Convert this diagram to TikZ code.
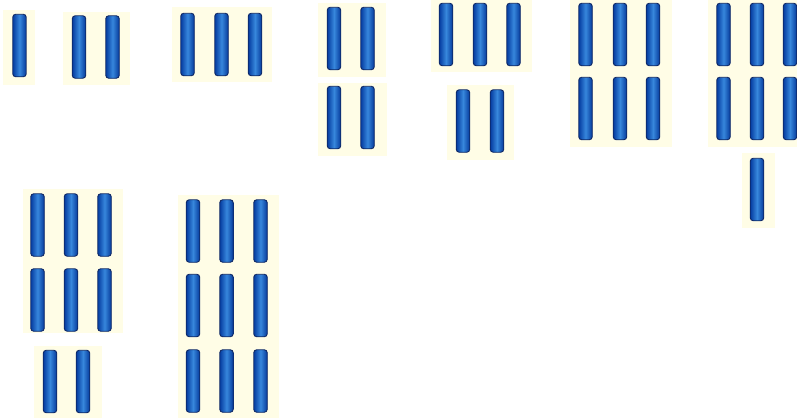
\documentclass[tikz,border=0pt]{standalone}
\begin{document}
\begin{tikzpicture}[x=1pt,y=-1pt,
  rod/.style={draw={rgb,255:red,15;green,40;blue,100},line width=0.9pt,rounded corners=3pt,
    minimum width=13.5pt,minimum height=62.5pt,inner sep=0pt,
    left color={rgb,255:red,5;green,60;blue,160},right color={rgb,255:red,5;green,58;blue,155},
    middle color={rgb,255:red,55;green,135;blue,220}},
  pad/.style={fill={rgb,255:red,255;green,253;blue,230},draw=none}]
\useasboundingbox (0,0) rectangle (797,418);
\fill[white] (0,0) rectangle (797,418);
% backgrounds
\fill[pad] (3,10) rectangle (35,85);
\fill[pad] (63,12) rectangle (130,85);
\fill[pad] (172,7) rectangle (272,82);
\fill[pad] (318,3) rectangle (386,77);
\fill[pad] (318,83) rectangle (387,156);
\fill[pad] (431,0) rectangle (532,72);
\fill[pad] (447,85) rectangle (514,160);
\fill[pad] (570,0) rectangle (672,147);
\fill[pad] (708,0) rectangle (797,147);
\fill[pad] (742,153) rectangle (775,228);
\fill[pad] (23,189) rectangle (123,333);
\fill[pad] (34,346) rectangle (102,418);
\fill[pad] (178,195) rectangle (279,418);
% group 1
\node[rod] (a1) at (19.5,45.5) {};
% group 2
\foreach \x [count=\i] in {79,112.5} \node[rod] (b\i) at (\x,47) {};
% group 3
\foreach \x [count=\i] in {187.5,221.5,255} \node[rod] (c\i) at (\x,44.5) {};
% group 4
\foreach \x [count=\i] in {334,367.5} {\node[rod] (d\i) at (\x,38.5) {}; \node[rod] (dd\i) at (\x,117.5) {};}
% group 5
\foreach \x [count=\i] in {446,480,513.5} \node[rod] (e\i) at (\x,34.5) {};
\foreach \x [count=\i] in {463,497} \node[rod] (ee\i) at (\x,121) {};
% group 6
\foreach \x [count=\i] in {585.5,620,653} {\node[rod] (f\i) at (\x,34.5) {}; \node[rod] (ff\i) at (\x,108.5) {};}
% group 7
\foreach \x [count=\i] in {723.5,757,790} {\node[rod] (g\i) at (\x,34.5) {}; \node[rod] (gg\i) at (\x,108.5) {};}
\node[rod] (ggg1) at (757,189.5) {};
% group 8
\foreach \x [count=\i] in {37.5,71,104.5} {\node[rod] (h\i) at (\x,225) {}; \node[rod] (hh\i) at (\x,300) {};}
\foreach \x [count=\i] in {50,83} \node[rod] (hhh\i) at (\x,381.5) {};
% group 9
\foreach \x [count=\i] in {193,226.5,260.5} {\node[rod] (k\i) at (\x,231) {}; \node[rod] (kk\i) at (\x,305.5) {}; \node[rod] (kkk\i) at (\x,381) {};}
\end{tikzpicture}
\end{document}
